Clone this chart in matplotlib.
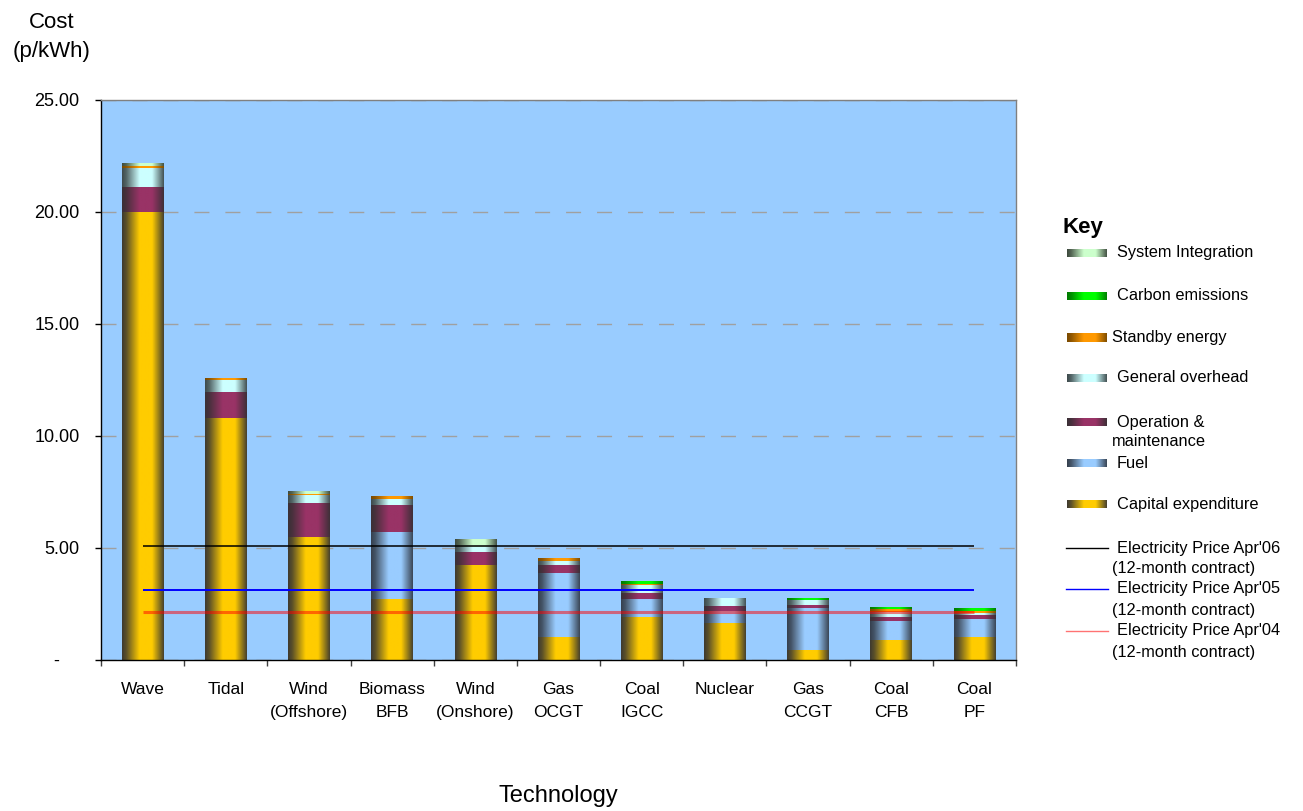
import numpy as np
import matplotlib
matplotlib.use("Agg")
import matplotlib.pyplot as plt
from matplotlib.colors import to_rgb
from matplotlib.lines import Line2D

plt.rcParams['font.family'] = ['Liberation Sans', 'DejaVu Sans']

# ---- data -------------------------------------------------------------
categories = ["Wave", "Tidal", "Wind\n(Offshore)", "Biomass\nBFB", "Wind\n(Onshore)",
              "Gas\nOCGT", "Coal\nIGCC", "Nuclear", "Gas\nCCGT", "Coal\nCFB", "Coal\nPF"]

capital  = [20.00, 10.82, 5.49, 2.72, 4.24, 1.03, 1.92, 1.65, 0.45, 0.90, 1.03]
fuel     = [0.00, 0.00, 0.00, 2.99, 0.00, 2.85, 0.80, 0.55, 1.87, 0.84, 0.80]
om       = [1.12, 1.14, 1.52, 1.21, 0.58, 0.36, 0.27, 0.21, 0.14, 0.18, 0.18]
overhead = [0.84, 0.54, 0.36, 0.27, 0.21, 0.18, 0.36, 0.36, 0.22, 0.22, 0.09]
standby  = [0.09, 0.09, 0.04, 0.13, 0.00, 0.13, 0.05, 0.00, 0.00, 0.14, 0.09]
carbon   = [0.00, 0.00, 0.00, 0.00, 0.00, 0.00, 0.13, 0.00, 0.09, 0.09, 0.13]
sysint   = [0.14, 0.00, 0.13, 0.00, 0.37, 0.00, 0.00, 0.00, 0.00, 0.00, 0.00]

series_names = ["Capital expenditure", "Fuel", "Operation &\nmaintenance", "General overhead",
                "Standby energy", "Carbon emissions", "System Integration"]

price_values = [5.08, 3.11, 2.16]
price_names = ["Electricity Price Apr'06", "Electricity Price Apr'05", "Electricity Price Apr'04"]
price_note = "(12-month contract)"

ytick_values = [0, 5, 10, 15, 20, 25]
ytick_labels = ["-    ", "5.00", "10.00", "15.00", "20.00", "25.00"]

# ---- styling ----------------------------------------------------------
series_values = [capital, fuel, om, overhead, standby, carbon, sysint]
series_colors = ["#FFCC00", "#99CCFF", "#993366", "#CCFFFF", "#FF9900", "#00FF00", "#CCFFCC"]
series_edges  = ["#3E3A30", "#36404E", "#3A3036", "#3E4A4C", "#7A4A00", "#007A00", "#3E4A3E"]
price_colors = ["#000000", "#0000FF", "#FF0000"]
price_alpha = [1.0, 1.0, 0.5]
price_lw = [1.1, 1.4, 2.2]

PROFILE_T = [0.0, 0.10, 0.42, 0.72, 1.0]
PROFILE_F = [0.0, 0.15, 1.0, 1.0, 0.05]


def shade(color, edge, n=96):
    """Horizontal cylinder-like gradient from a dark edge to the base colour."""
    t = np.linspace(0, 1, n)
    f = np.interp(t, PROFILE_T, PROFILE_F)
    c = np.array(to_rgb(color))
    e = np.array(to_rgb(edge))
    return (e + f[:, None] * (c - e))[None, :, :]


W, H = 1303, 811
fig = plt.figure(figsize=(W / 100, H / 100), dpi=100)
fig.patch.set_facecolor("white")


def fx(px):
    return px / W


def fy(py):
    return 1 - py / H


ax = fig.add_axes([fx(101), fy(660), (1016 - 101) / W, (660 - 100) / H])
ax.set_facecolor("#99CCFF")

x = np.arange(len(categories))
bottom = np.zeros(len(categories))
for vals, color, edge in zip(series_values, series_colors, series_edges):
    vals = np.asarray(vals, dtype=float)
    bars = ax.bar(x, vals, 0.5, bottom=bottom, facecolor="none", edgecolor="none", zorder=2)
    for b in bars:
        if b.get_height() <= 0:
            continue
        im = ax.imshow(shade(color, edge),
                       extent=(b.get_x(), b.get_x() + b.get_width(),
                               b.get_y(), b.get_y() + b.get_height()),
                       aspect="auto", interpolation="bilinear", zorder=2)
        im.set_clip_path(b)
    bottom += vals

for p, c, a, lw in zip(price_values, price_colors, price_alpha, price_lw):
    ax.hlines(p, x[0], x[-1], colors=c, alpha=a, linewidth=lw, zorder=3)

ax.set_xlim(-0.5, len(categories) - 0.5)
ax.set_ylim(0, 25)

ax.set_axisbelow(True)
ax.yaxis.grid(True, color="#A0A0A0", linewidth=1.0, linestyle=(0, (10.8, 11.5)))
ax.set_yticks(ytick_values, ytick_labels)
ax.tick_params(axis="y", direction="out", length=4.3, width=1, pad=11, labelsize=13, colors="black")

ax.set_xticks(x, categories)
ax.set_xticks(np.arange(-0.5, len(categories), 1.0), minor=True)
ax.tick_params(axis="x", which="major", length=0, pad=16, labelsize=12.5)
ax.tick_params(axis="x", which="minor", direction="out", length=4.3, width=1, color="#404040")
for lab in ax.get_xticklabels():
    lab.set_linespacing(1.62)

for side in ("left", "bottom"):
    ax.spines[side].set_color("black")
    ax.spines[side].set_linewidth(1.0)
for side in ("top", "right"):
    ax.spines[side].set_color("#808080")
    ax.spines[side].set_linewidth(1.0)

# axis titles
fig.text(fx(52), fy(22), "Cost", ha="center", va="center", fontsize=16)
fig.text(fx(52), fy(52), "(p/kWh)", ha="center", va="center", fontsize=16)
fig.text(fx(558), fy(796), "Technology", ha="center", va="center", fontsize=17)

# ---- key --------------------------------------------------------------
fig.text(fx(1062), fy(227), "Key", ha="left", va="center", fontsize=16, fontweight="bold")

key_rows = [  # (series index, swatch centre y, text x)
    (6, 253, 1117), (5, 296, 1117), (4, 337, 1112), (3, 378, 1117),
    (2, 422, 1117), (1, 463, 1117), (0, 504, 1117),
]
for idx, yc, tx in key_rows:
    sw = fig.add_axes([fx(1067), fy(yc + 4.5), 40 / W, 9 / H])
    sw.imshow(shade(series_colors[idx], series_edges[idx]), aspect="auto",
              interpolation="bilinear", extent=(0, 1, 0, 1))
    sw.set_axis_off()
    name = series_names[idx]
    if "\n" in name:
        first, second = name.split("\n")
        fig.text(fx(tx), fy(yc), first, ha="left", va="center", fontsize=11.8)
        fig.text(fx(1112), fy(yc + 20), second, ha="left", va="center", fontsize=11.8)
    else:
        fig.text(fx(tx), fy(yc), name, ha="left", va="center", fontsize=11.8)

for i, yc in enumerate([548, 589, 631]):
    fig.add_artist(Line2D([fx(1066), fx(1108)], [fy(yc), fy(yc)], color=price_colors[i],
                          alpha=price_alpha[i] if i < 2 else 0.55, linewidth=1.0,
                          transform=fig.transFigure))
    fig.text(fx(1117), fy(yc), price_names[i], ha="left", va="center", fontsize=11.8)
    fig.text(fx(1112), fy(yc + 21), price_note, ha="left", va="center", fontsize=11.8)

fig.savefig("out.png", dpi=100)
